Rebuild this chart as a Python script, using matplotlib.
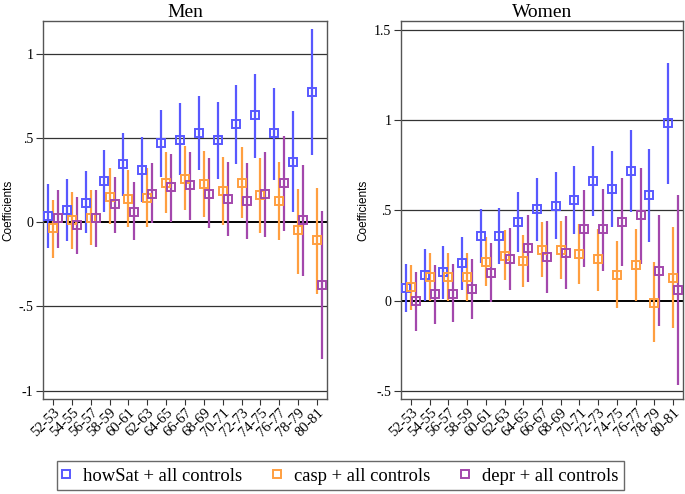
import matplotlib.pyplot as plt
import numpy as np

cohorts = ["52-53", "54-55", "56-57", "58-59", "60-61", "62-63", "64-65", "66-67",
           "68-69", "70-71", "72-73", "74-75", "76-77", "78-79", "80-81"]

# Men: coefficient, lower, upper
men_howsat = [0.037, 0.073, 0.117, 0.246, 0.345, 0.311, 0.47, 0.49, 0.53, 0.488, 0.583, 0.637, 0.528, 0.361, 0.776]
men_howsat_lo = [-0.15, -0.11, -0.065, 0.06, 0.156, 0.12, 0.267, 0.28, 0.31, 0.256, 0.345, 0.38, 0.25, 0.06, 0.40]
men_howsat_hi = [0.226, 0.26, 0.305, 0.43, 0.53, 0.505, 0.668, 0.708, 0.748, 0.712, 0.815, 0.88, 0.80, 0.66, 1.15]

men_casp = [-0.036, 0.014, 0.028, 0.153, 0.141, 0.143, 0.236, 0.26, 0.226, 0.183, 0.236, 0.16, 0.127, -0.048, -0.107]
men_casp_lo = [-0.21, -0.157, -0.135, -0.012, -0.026, -0.026, 0.058, 0.073, 0.034, -0.016, 0.028, -0.062, -0.105, -0.31, -0.425]
men_casp_hi = [0.13, 0.18, 0.19, 0.32, 0.31, 0.32, 0.42, 0.454, 0.424, 0.385, 0.445, 0.38, 0.36, 0.2, 0.206]

men_depr = [0.024, -0.016, 0.024, 0.107, 0.064, 0.17, 0.21, 0.22, 0.17, 0.137, 0.127, 0.167, 0.232, 0.012, -0.373]
men_depr_lo = [-0.155, -0.19, -0.145, -0.065, -0.105, -0.006, 0.002, 0.014, -0.036, -0.081, -0.10, -0.086, -0.05, -0.32, -0.81]
men_depr_hi = [0.19, 0.15, 0.19, 0.27, 0.24, 0.355, 0.405, 0.42, 0.38, 0.36, 0.355, 0.42, 0.514, 0.34, 0.07]

# Women
women_howsat = [0.07, 0.144, 0.157, 0.208, 0.356, 0.36, 0.435, 0.507, 0.525, 0.559, 0.66, 0.62, 0.72, 0.586, 0.982]
women_howsat_lo = [-0.063, 0.0, 0.011, 0.057, 0.208, 0.203, 0.269, 0.328, 0.343, 0.369, 0.47, 0.41, 0.49, 0.325, 0.647]
women_howsat_hi = [0.205, 0.286, 0.30, 0.352, 0.507, 0.513, 0.599, 0.68, 0.71, 0.748, 0.857, 0.83, 0.946, 0.84, 1.315]

women_casp = [0.074, 0.131, 0.131, 0.131, 0.214, 0.25, 0.221, 0.282, 0.282, 0.26, 0.23, 0.144, 0.195, -0.013, 0.125]
women_casp_lo = [-0.05, 0.0, 0.0, 0.0, 0.083, 0.116, 0.074, 0.129, 0.122, 0.094, 0.052, -0.04, -0.004, -0.228, -0.151]
women_casp_hi = [0.195, 0.264, 0.264, 0.264, 0.352, 0.393, 0.365, 0.435, 0.44, 0.426, 0.398, 0.332, 0.397, 0.212, 0.41]

women_depr = [0.0, 0.039, 0.039, 0.065, 0.153, 0.232, 0.291, 0.24, 0.264, 0.398, 0.397, 0.435, 0.472, 0.162, 0.061]
women_depr_lo = [-0.166, -0.127, -0.12, -0.1, -0.007, 0.061, 0.101, 0.042, 0.065, 0.186, 0.166, 0.19, 0.205, -0.138, -0.465]
women_depr_hi = [0.157, 0.195, 0.203, 0.232, 0.322, 0.405, 0.476, 0.439, 0.47, 0.614, 0.618, 0.679, 0.734, 0.476, 0.586]

labels = ["howSat + all controls", "casp + all controls", "depr + all controls"]
colors = ["#5858ff", "#ff9f40", "#a347ac"]

plt.rcParams['font.family'] = 'Liberation Serif'

fig = plt.figure(figsize=(6.85, 4.94), dpi=100)
ax1 = fig.add_axes([0.0628, 0.1923, 0.4145, 0.7652])
ax2 = fig.add_axes([0.5854, 0.1923, 0.4116, 0.7652])

x = np.arange(1, len(cohorts) + 1)
offsets = [-0.27, 0.0, 0.27]


def draw(ax, series, ylim, yticks, yticklabels, title):
    for yv in yticks:
        if yv == 0:
            ax.axhline(0, color='black', lw=1.4, zorder=1)
        else:
            ax.axhline(yv, color='#333333', lw=0.9, zorder=1)
    handles = []
    for (v, lo, hi), off, c, lab in zip(series, offsets, colors, labels):
        v, lo, hi = np.array(v), np.array(lo), np.array(hi)
        ax.vlines(x + off, lo, hi, color=c, lw=1.6, zorder=2)
        h, = ax.plot(x + off, v, 's', ms=6, mfc='none', mec=c, mew=1.4, zorder=3, label=lab)
        handles.append(h)
    ax.set_xlim(0.47, 15.53)
    ax.set_ylim(*ylim)
    ax.set_yticks(yticks)
    ax.set_yticklabels(yticklabels, fontsize=10)
    ax.set_xticks(x)
    ax.set_xticklabels(cohorts, rotation=45, ha='right', rotation_mode='anchor', fontsize=10.5)
    ax.tick_params(axis='x', pad=1, length=4, color='#333333')
    ax.tick_params(axis='y', pad=2, length=5, color='#333333')
    ax.set_ylabel("Coefficients", family='Liberation Sans', fontsize=8.5, labelpad=3)
    ax.set_title(title, fontsize=14, pad=2)
    for s in ax.spines.values():
        s.set_color('#555555')
        s.set_linewidth(1.0)
    return handles


handles = draw(ax1,
               [(men_howsat, men_howsat_lo, men_howsat_hi),
                (men_casp, men_casp_lo, men_casp_hi),
                (men_depr, men_depr_lo, men_depr_hi)],
               (-1.05, 1.196), [-1, -0.5, 0, 0.5, 1], ["-1", "-.5", "0", ".5", "1"], "Men")
draw(ax2,
     [(women_howsat, women_howsat_lo, women_howsat_hi),
      (women_casp, women_casp_lo, women_casp_hi),
      (women_depr, women_depr_lo, women_depr_hi)],
     (-0.544, 1.548), [-0.5, 0, 0.5, 1, 1.5], ["-.5", "0", ".5", "1", "1.5"], "Women")

leg = fig.legend(handles=handles, loc='center', bbox_to_anchor=(0.497, 0.0374), ncol=3,
                 fontsize=13.4, frameon=True, fancybox=False, edgecolor='#444444',
                 handlelength=0.4, handleheight=1.0, handletextpad=0.7, columnspacing=1.68,
                 borderpad=0.3, borderaxespad=0, markerscale=1.0)
leg.get_frame().set_linewidth(1.0)

fig.savefig("out.png", dpi=100)
